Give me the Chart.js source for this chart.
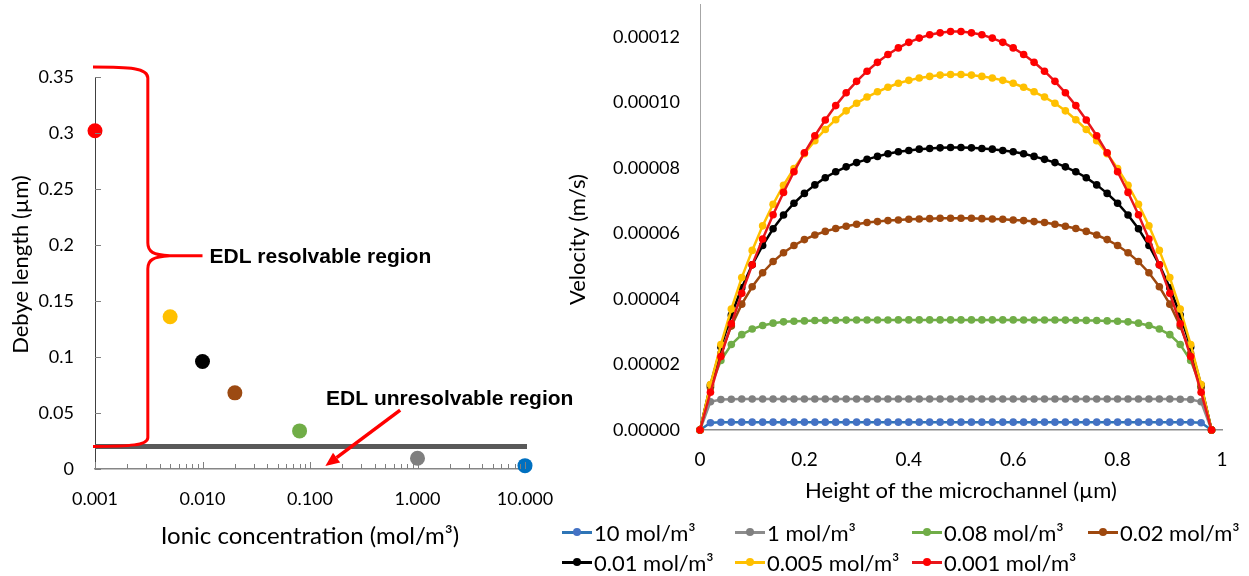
<!DOCTYPE html>
<html>
<head>
<meta charset="utf-8">
<script src="https://cdn.jsdelivr.net/npm/chart.js@4.4.1/dist/chart.umd.min.js"></script>
<style>
  body { margin:0; background:#fff; width:1249px; height:576px; overflow:hidden; position:relative; font-family: Lato, sans-serif; }
  #debyeChart { position:absolute; left:0; top:0; }
  #velChart   { position:absolute; left:560px; top:0; }
  #legend { position:absolute; left:562px; top:517px; display:grid;
            grid-template-columns:173px 177px 176px 170px; grid-auto-rows:30px;
            font-size:22px; color:#000; }
  .item { display:flex; align-items:center; white-space:nowrap; }
  .sw   { position:relative; width:30px; height:3px; margin-right:2px; }
  .sw i { position:absolute; left:11px; top:-2.5px; width:8px; height:8px; border-radius:50%; }
</style>
</head>
<body>
<canvas id="debyeChart" width="600" height="576"></canvas>
<canvas id="velChart" width="689" height="512"></canvas>
<div id="legend"></div>
<script>
// ————— Left chart data: Debye length vs ionic concentration —————
const concentrations = [0.001, 0.005, 0.01, 0.02, 0.08, 1, 10];
const debyeLengths   = [0.302, 0.136, 0.096, 0.068, 0.034, 0.0096, 0.003];
const pointColors    = ['#ff0000', '#ffc000', '#000000', '#9c4a12', '#70ad47', '#7f7f7f', '#0070c0'];
const concTicks      = [0.001, 0.01, 0.1, 1, 10];
const debyeTicks     = [0, 0.05, 0.1, 0.15, 0.2, 0.25, 0.3, 0.35];
const edlLimit       = 0.02;

// ————— Right chart data: velocity profiles (values in 1e-5 m/s) —————
const heights = [0, 0.02, 0.04, 0.06, 0.08, 0.1, 0.12, 0.14, 0.16, 0.18,
  0.2, 0.22, 0.24, 0.26, 0.28, 0.3, 0.32, 0.34, 0.36, 0.38,
  0.4, 0.42, 0.44, 0.46, 0.48, 0.5, 0.52, 0.54, 0.56, 0.58,
  0.6, 0.62, 0.64, 0.66, 0.68, 0.7, 0.72, 0.74, 0.76, 0.78,
  0.8, 0.82, 0.84, 0.86, 0.88, 0.9, 0.92, 0.94, 0.96, 0.98];
const heightTicks = [0, 0.2, 0.4, 0.6, 0.8, 1];
const velTicks    = [0, 2, 4, 6, 8, 10, 12];

const vel10 = [0, 0.22, 0.235, 0.24, 0.24, 0.24, 0.24, 0.24, 0.24, 0.24,
  0.24, 0.24, 0.24, 0.24, 0.24, 0.24, 0.24, 0.24, 0.24, 0.24,
  0.24, 0.24, 0.24, 0.24, 0.24, 0.24, 0.24, 0.24, 0.24, 0.24,
  0.24, 0.24, 0.24, 0.24, 0.24, 0.24, 0.24, 0.24, 0.24, 0.24,
  0.24, 0.24, 0.24, 0.24, 0.24, 0.24, 0.24, 0.235, 0.22, 0];
const vel1 = [0, 0.86, 0.93, 0.94, 0.945, 0.945, 0.945, 0.945, 0.945, 0.945,
  0.945, 0.945, 0.945, 0.945, 0.945, 0.945, 0.945, 0.945, 0.945, 0.945,
  0.945, 0.945, 0.945, 0.945, 0.945, 0.945, 0.945, 0.945, 0.945, 0.945,
  0.945, 0.945, 0.945, 0.945, 0.945, 0.945, 0.945, 0.945, 0.945, 0.945,
  0.945, 0.945, 0.945, 0.945, 0.945, 0.945, 0.94, 0.93, 0.86, 0];
const vel008 = [0, 1.32, 2.12, 2.61, 2.91, 3.08, 3.19, 3.26, 3.30, 3.32,
  3.33, 3.34, 3.345, 3.35, 3.353, 3.355, 3.357, 3.358, 3.359, 3.36,
  3.36, 3.36, 3.36, 3.36, 3.36, 3.36, 3.36, 3.36, 3.36, 3.36,
  3.36, 3.359, 3.358, 3.357, 3.355, 3.353, 3.35, 3.345, 3.34, 3.33,
  3.32, 3.30, 3.26, 3.19, 3.08, 2.91, 2.61, 2.12, 1.32, 0];
const vel002 = [0, 1.30, 2.34, 3.17, 3.84, 4.37, 4.80, 5.14, 5.41, 5.63,
  5.81, 5.95, 6.06, 6.15, 6.22, 6.28, 6.33, 6.36, 6.39, 6.41,
  6.43, 6.44, 6.45, 6.46, 6.46, 6.46, 6.46, 6.45, 6.44, 6.43,
  6.41, 6.39, 6.36, 6.33, 6.28, 6.22, 6.15, 6.06, 5.95, 5.81,
  5.63, 5.41, 5.14, 4.80, 4.37, 3.84, 3.17, 2.34, 1.30, 0];
const vel001 = [0, 1.37, 2.53, 3.51, 4.34, 5.04, 5.63, 6.14, 6.56, 6.92,
  7.22, 7.48, 7.70, 7.88, 8.03, 8.16, 8.26, 8.35, 8.43, 8.49,
  8.53, 8.57, 8.59, 8.61, 8.62, 8.62, 8.61, 8.59, 8.57, 8.53,
  8.49, 8.43, 8.35, 8.26, 8.16, 8.03, 7.88, 7.70, 7.48, 7.22,
  6.92, 6.56, 6.14, 5.63, 5.04, 4.34, 3.51, 2.53, 1.37, 0];
const vel0005 = [0, 1.39, 2.61, 3.69, 4.65, 5.48, 6.23, 6.89, 7.47, 7.98,
  8.43, 8.83, 9.17, 9.47, 9.74, 9.97, 10.16, 10.32, 10.46, 10.58,
  10.67, 10.74, 10.79, 10.83, 10.85, 10.85, 10.83, 10.79, 10.74, 10.67,
  10.58, 10.46, 10.32, 10.16, 9.97, 9.74, 9.47, 9.17, 8.83, 8.43,
  7.98, 7.47, 6.89, 6.23, 5.48, 4.65, 3.69, 2.61, 1.39, 0];
const vel0001 = [0, 1.15, 2.24, 3.24, 4.17, 5.04, 5.83, 6.57, 7.25, 7.88,
  8.46, 8.98, 9.46, 9.90, 10.29, 10.64, 10.95, 11.22, 11.46, 11.66,
  11.83, 11.96, 12.06, 12.12, 12.16, 12.16, 12.12, 12.06, 11.96, 11.83,
  11.66, 11.46, 11.22, 10.95, 10.64, 10.29, 9.90, 9.46, 8.98, 8.46,
  7.88, 7.25, 6.57, 5.83, 5.04, 4.17, 3.24, 2.24, 1.15, 0];

const seriesLabels  = ['10 mol/m³', '1 mol/m³', '0.08 mol/m³', '0.02 mol/m³', '0.01 mol/m³', '0.005 mol/m³', '0.001 mol/m³'];
const seriesValues  = [vel10, vel1, vel008, vel002, vel001, vel0005, vel0001];
const lineColors    = ['#2e75b6', '#8c8c8c', '#70ad47', '#9e480e', '#000000', '#ffc000', '#e8161b'];
const markerColors  = ['#4472c4', '#808080', '#70ad47', '#9e480e', '#000000', '#ffc000', '#ff0000'];

Chart.defaults.font.family = 'Lato';
Chart.defaults.color = '#000';

// fixed axis boxes so the plot areas land where the reference has them
const noPadX = s => { s.paddingLeft = 0; s.paddingRight = 0; };
const noPadY = s => { s.paddingTop = 0; s.paddingBottom = 0; };

// ————— Left chart decorations (inward ticks, brace, arrow, notes) —————
const debyeDecor = {
  id: 'debyeDecor',
  beforeDatasetsDraw(chart) {
    const { ctx, scales: { x, y } } = chart;
    const yl = y.getPixelForValue(edlLimit);
    ctx.save();
    ctx.strokeStyle = '#595959';
    ctx.lineWidth = 5;
    ctx.beginPath();
    ctx.moveTo(x.left, yl);
    ctx.lineTo(x.right + 2, yl);
    ctx.stroke();
    ctx.restore();
  },
  afterDraw(chart) {
    const { ctx, scales: { x, y } } = chart;
    ctx.save();
    // inward tick marks
    ctx.strokeStyle = '#7f7f7f';
    ctx.lineWidth = 1;
    ctx.beginPath();
    concTicks.forEach(d => {
      for (let k = 1; k <= 9; k++) {
        const v = d * k;
        if (v > 10.0001) break;
        const px = Math.round(x.getPixelForValue(v)) + 0.5;
        ctx.moveTo(px, y.bottom);
        ctx.lineTo(px, y.bottom - (k === 1 ? 7 : 5));
      }
    });
    debyeTicks.forEach(v => {
      const py = Math.round(y.getPixelForValue(v)) + 0.5;
      ctx.moveTo(x.left, py);
      ctx.lineTo(x.left + 6, py);
    });
    ctx.stroke();

    // red curly brace
    const xl = x.getPixelForValue(0.001);
    const xv = x.getPixelForValue(0.0031);
    const xt = x.getPixelForValue(0.01);
    const yTop = y.getPixelForValue(0.359);
    const yMid = y.getPixelForValue(0.1903);
    const yBot = y.getPixelForValue(0.0202);
    ctx.strokeStyle = '#ff0000';
    ctx.lineWidth = 3;
    ctx.lineJoin = 'round';
    ctx.beginPath();
    ctx.moveTo(xl - 2, yTop);
    ctx.bezierCurveTo(xv - 18, yTop, xv, yTop + 1, xv, yTop + 11);
    ctx.lineTo(xv, yMid - 13);
    ctx.bezierCurveTo(xv, yMid - 4, xv + 5, yMid - 1, xv + 22, yMid);
    ctx.lineTo(xt, yMid);
    ctx.moveTo(xv + 22, yMid);
    ctx.bezierCurveTo(xv + 5, yMid + 1, xv, yMid + 4, xv, yMid + 13);
    ctx.lineTo(xv, yBot - 9);
    ctx.bezierCurveTo(xv, yBot - 1, xv - 18, yBot, xl - 2, yBot);
    ctx.stroke();

    // red arrow
    const ax0 = x.getPixelForValue(0.69), ay0 = y.getPixelForValue(0.0525);
    const ax1 = x.getPixelForValue(0.139), ay1 = y.getPixelForValue(0.0027);
    const ang = Math.atan2(ay1 - ay0, ax1 - ax0);
    const head = 14, half = 6;
    const bx = ax1 - head * Math.cos(ang), by = ay1 - head * Math.sin(ang);
    ctx.lineWidth = 3.5;
    ctx.beginPath();
    ctx.moveTo(ax0, ay0);
    ctx.lineTo(bx, by);
    ctx.stroke();
    ctx.fillStyle = '#ff0000';
    ctx.beginPath();
    ctx.moveTo(ax1, ay1);
    ctx.lineTo(bx + half * Math.sin(ang), by - half * Math.cos(ang));
    ctx.lineTo(bx - half * Math.sin(ang), by + half * Math.cos(ang));
    ctx.closePath();
    ctx.fill();

    // notes
    ctx.fillStyle = '#000';
    ctx.font = 'bold 21px "Liberation Sans", Arial, sans-serif';
    ctx.textBaseline = 'middle';
    ctx.textAlign = 'left';
    ctx.fillText('EDL resolvable region', xt + 7, yMid + 1);
    ctx.fillText('EDL unresolvable region', x.getPixelForValue(0.141), y.getPixelForValue(0.0627));
    ctx.restore();
  }
};

new Chart(document.getElementById('debyeChart'), {
  type: 'scatter',
  data: {
    datasets: [{
      data: concentrations.map((c, i) => ({ x: c, y: debyeLengths[i] })),
      pointBackgroundColor: pointColors,
      pointBorderColor: pointColors,
      pointRadius: 7.5,
      pointHoverRadius: 7.5,
      borderWidth: 0,
      clip: false
    }]
  },
  plugins: [debyeDecor],
  options: {
    responsive: false,
    animation: false,
    layout: { padding: { left: 0, top: 77, right: 75, bottom: 0 } },
    plugins: { legend: { display: false }, tooltip: { enabled: false } },
    scales: {
      x: {
        type: 'logarithmic', min: 0.001, max: 10,
        afterBuildTicks: s => { s.ticks = concTicks.map(v => ({ value: v })); },
        afterFit: s => { s.height = 107; noPadX(s); },
        grid: { display: false, drawTicks: false },
        border: { display: true, color: '#868686', width: 1.5 },
        ticks: { padding: 19, autoSkip: false, maxRotation: 0, font: { size: 18 }, callback: v => Number(v).toFixed(3) },
        title: { display: true, text: 'Ionic concentration (mol/m³)', font: { size: 24 }, padding: { top: 0, bottom: 25 } }
      },
      y: {
        min: 0, max: 0.35,
        afterBuildTicks: s => { s.ticks = debyeTicks.map(v => ({ value: v })); },
        afterFit: s => { s.width = 95; noPadY(s); },
        grid: { display: false, drawTicks: false },
        border: { display: true, color: '#404040', width: 1 },
        ticks: { padding: 21, font: { size: 18 }, callback: v => String(+Number(v).toFixed(2)) },
        title: { display: true, text: '\u00A0\u00A0\u00A0Debye length (µm)', font: { size: 22 }, padding: { top: 8, bottom: 0 } }
      }
    }
  }
});

// ————— Right chart: velocity profiles —————
const velDatasets = seriesLabels.map((label, i) => ({
  label,
  data: heights.map((h, j) => ({ x: h, y: seriesValues[i][j] })),
  borderColor: lineColors[i],
  backgroundColor: markerColors[i],
  pointBackgroundColor: markerColors[i],
  pointBorderColor: markerColors[i],
  borderWidth: 2.5,
  pointRadius: 3.8,
  pointHoverRadius: 3.8,
  pointBorderWidth: 0,
  tension: 0,
  order: seriesLabels.length - i,
  clip: false
}));

new Chart(document.getElementById('velChart'), {
  type: 'line',
  data: { datasets: velDatasets },
  options: {
    responsive: false,
    animation: false,
    layout: { padding: { left: 0, top: 4, right: 27, bottom: 0 } },
    plugins: { legend: { display: false }, tooltip: { enabled: false } },
    scales: {
      x: {
        type: 'linear', min: 0, max: 1,
        afterBuildTicks: s => { s.ticks = heightTicks.map(v => ({ value: v })); },
        afterFit: s => { s.height = 82; noPadX(s); },
        grid: { display: true, drawOnChartArea: false, drawTicks: false },
        border: { display: true, color: '#8c8c8c', width: 1.5 },
        ticks: { padding: 18, maxRotation: 0, font: { size: 19 }, callback: v => String(+Number(v).toFixed(1)) },
        title: { display: true, text: 'Height of the microchannel (µm)', font: { size: 22 }, padding: { top: 0, bottom: 8 } }
      },
      y: {
        min: 0, max: 13,
        afterBuildTicks: s => { s.ticks = velTicks.map(v => ({ value: v })); },
        afterFit: s => { s.width = 140; noPadY(s); },
        grid: { display: true, drawOnChartArea: false, drawTicks: false },
        border: { display: true, color: '#a6a6a6', width: 1 },
        ticks: { padding: 20, font: { size: 18 }, callback: v => (v * 1e-5).toFixed(5) },
        title: { display: true, text: 'Velocity (m/s)\u00A0\u00A0\u00A0\u00A0\u00A0\u00A0\u00A0\u00A0', font: { size: 22 }, padding: { top: 5, bottom: 0 } }
      }
    }
  }
});

// ————— HTML legend —————
const legendEl = document.getElementById('legend');
seriesLabels.forEach((label, i) => {
  const item = document.createElement('div');
  item.className = 'item';
  item.innerHTML = `<span class="sw" style="background:${lineColors[i]}"><i style="background:${markerColors[i]}"></i></span>${label}`;
  legendEl.appendChild(item);
});
</script>
</body>
</html>
